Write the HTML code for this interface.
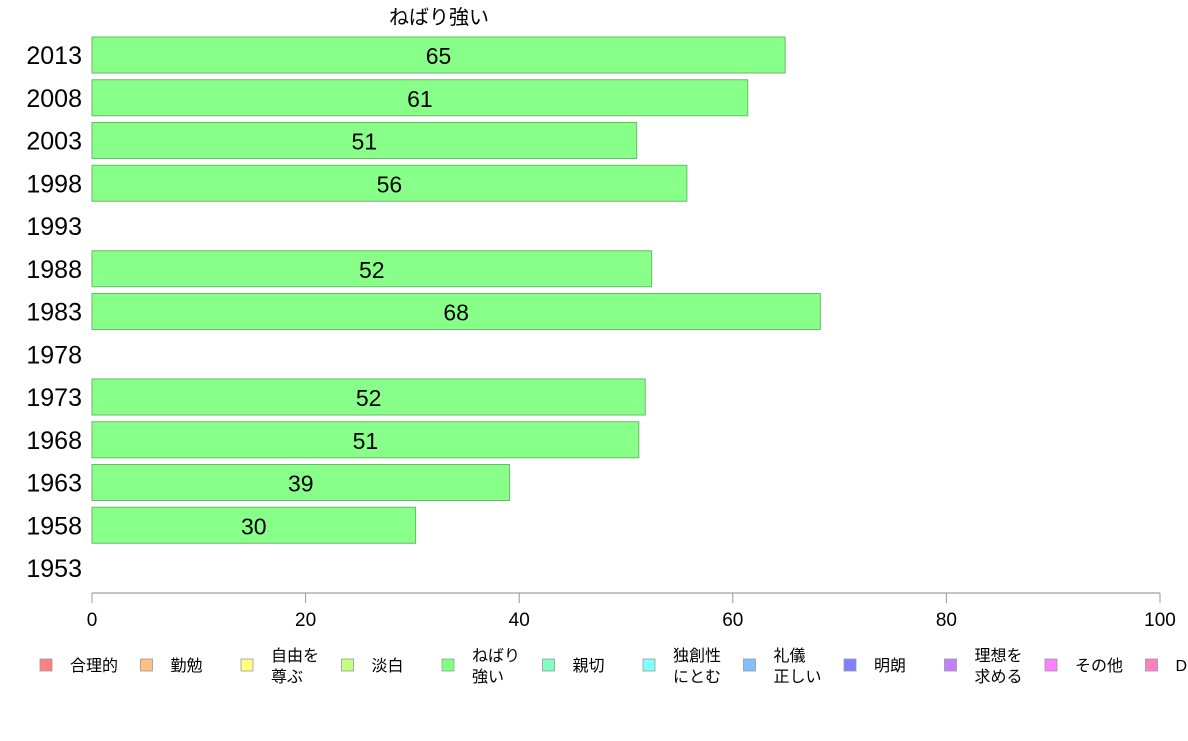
<!DOCTYPE html>
<html><head><meta charset="utf-8"><style>
body{margin:0;background:#fff;width:1188px;height:736px;overflow:hidden}
text{font-family:"Liberation Sans","Noto Sans CJK JP",sans-serif}
</style></head><body>
<svg id="c" width="1188" height="736"></svg>
<script>
const years=["2013","2008","2003","1998","1993","1988","1983","1978","1973","1968","1963","1958","1953"];
const values=[64.9,61.4,51.0,55.7,null,52.4,68.2,null,51.8,51.2,39.1,30.3,null];
const labels=["65","61","51","56","","52","68","","52","51","39","30",""];
const ticks=[0,20,40,60,80,100];
const legendNames=[["合理的"],["勤勉"],["自由を","尊ぶ"],["淡白"],["ねばり","強い"],["親切"],["独創性","にとむ"],["礼儀","正しい"],["明朗"],["理想を","求める"],["その他"],["D"]];
const legendColors=["#ff8080","#ffc080","#ffff80","#c0ff80","#80ff80","#80ffc0","#80ffff","#80c0ff","#8080ff","#c080ff","#ff80ff","#ff80c0"];
const svg=document.getElementById('c');const NS="http://www.w3.org/2000/svg";
function mk(t,a,p){const e=document.createElementNS(NS,t);for(const k in a)e.setAttribute(k,a[k]);(p||svg).appendChild(e);return e;}
const x=v=>92+v*10.68;
const y=i=>55+i*42.75;
const t=mk('text',{x:439,y:24,'font-size':20,'text-anchor':'middle'});t.textContent="ねばり強い";


years.forEach((yr,i)=>{
  const l=mk('text',{x:82,y:y(i)+9,'font-size':25,'text-anchor':'end'});l.textContent=yr;
  
  
  if(values[i]!=null){
    const r=mk('rect',{x:x(0),y:y(i)-18,width:x(values[i])-x(0),height:36,fill:'#88ff88',stroke:'#66bb66','stroke-width':1});
    
    
    const v=mk('text',{x:(x(0)+x(values[i]))/2,y:y(i)+9,'font-size':23,'text-anchor':'middle'});v.textContent=labels[i];
    
    
  }
});
const ax=mk('line',{x1:x(0),x2:x(100),y1:593,y2:593,stroke:'#888'});


ticks.forEach(tk=>{
  mk('line',{x1:x(tk),x2:x(tk),y1:593,y2:603,stroke:'#999'});
  const l=mk('text',{x:x(tk),y:626,'font-size':19,'text-anchor':'middle'});l.textContent=tk;
  
  
});
legendNames.forEach((n,i)=>{
  const bx=40+i*100.5;
  const g=mk('g',{});
  
  
  mk('rect',{x:bx,y:659,width:12,height:12,fill:legendColors[i],stroke:'#999','stroke-width':0.8},g);
  if(n.length==1){const tx=mk('text',{x:bx+30,y:671,'font-size':16},g);tx.textContent=n[0];}
  else{n.forEach((s,j)=>{const tx=mk('text',{x:bx+30,y:661+j*21,'font-size':16},g);tx.textContent=s;});}
});
</script>
</body></html>
